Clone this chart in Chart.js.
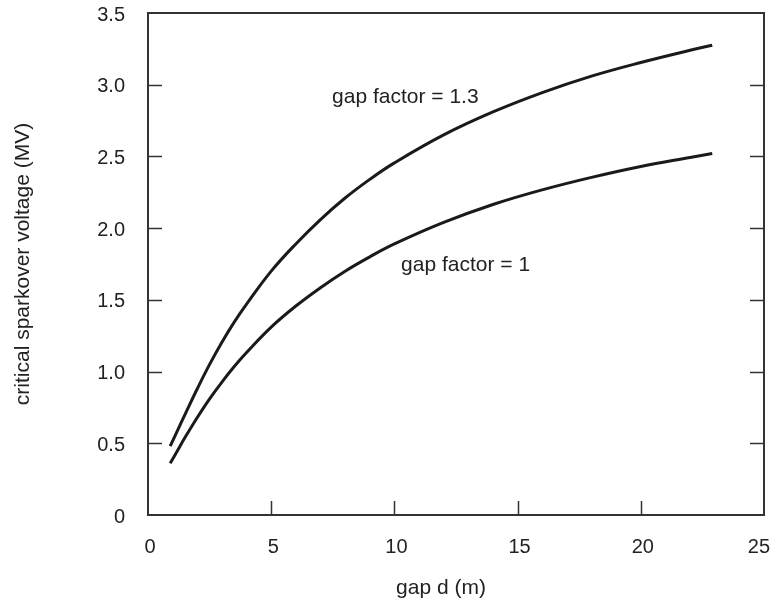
<!DOCTYPE html>
<html>
<head>
<meta charset="utf-8">
<script src="https://cdn.jsdelivr.net/npm/chart.js@4"></script>
<style>
  html, body { margin: 0; padding: 0; background: #fff; }
  canvas { display: block; }
</style>
</head>
<body>
<canvas id="chartSpark" width="772" height="599"></canvas>
<script>
// gap distance d (m)
var gapD = [0.9, 1.2, 1.5, 2, 2.5, 3, 3.5, 4, 5, 6, 7, 8, 9, 10, 12, 14, 16, 18, 20, 22, 22.9];
// critical sparkover voltage (MV)
var factor13 = [0.48, 0.59, 0.70, 0.88, 1.05, 1.205, 1.345, 1.47, 1.70, 1.89, 2.06, 2.21, 2.34, 2.455, 2.65, 2.81, 2.945, 3.06, 3.155, 3.24, 3.275];
var factor1  = [0.36, 0.45, 0.54, 0.68, 0.81, 0.927, 1.035, 1.133, 1.31, 1.457, 1.585, 1.70, 1.80, 1.89, 2.04, 2.165, 2.267, 2.354, 2.43, 2.493, 2.52];
var xTicks = [0, 5, 10, 15, 20, 25];
var yTicks = [0, 0.5, 1.0, 1.5, 2.0, 2.5, 3.0, 3.5];
var curveLabels = [
    { text: 'gap factor = 1.3', x: 7.47, y: 2.91 },
    { text: 'gap factor = 1',   x: 10.27, y: 1.74 }
];

function toPoints(xs, ys){
    return xs.map(function(x, i){ return { x: x, y: ys[i] }; });
}

var FONT = '"Liberation Sans", Arial, sans-serif';
var INK = '#222';

// frame, inward ticks, tick labels, x title and curve labels
var framePlugin = {
    id: 'frame',
    afterDraw: function(chart){
        var ctx = chart.ctx, a = chart.chartArea;
        var xs = chart.scales.x, ys = chart.scales.y;
        var len = 14;
        ctx.save();
        ctx.strokeStyle = '#333';
        ctx.lineWidth = 2;
        ctx.strokeRect(a.left, a.top, a.right - a.left, a.bottom - a.top);
        ctx.lineWidth = 1.5;
        ctx.beginPath();
        yTicks.forEach(function(v){
            if (v === 0 || v === 3.5) return;
            var py = Math.round(ys.getPixelForValue(v)) + 0.5;
            ctx.moveTo(a.left, py); ctx.lineTo(a.left + len, py);
            ctx.moveTo(a.right, py); ctx.lineTo(a.right - len, py);
        });
        xTicks.forEach(function(v){
            if (v === 0 || v === 25) return;
            var px = Math.round(xs.getPixelForValue(v)) + 0.5;
            ctx.moveTo(px, a.bottom); ctx.lineTo(px, a.bottom - len);
        });
        ctx.stroke();

        ctx.fillStyle = INK;
        ctx.font = '20px ' + FONT;
        ctx.textBaseline = 'middle';
        ctx.textAlign = 'right';
        yTicks.forEach(function(v){
            ctx.fillText(v === 0 ? '0' : v.toFixed(1), a.left - 23, ys.getPixelForValue(v) + 2);
        });
        ctx.textAlign = 'center';
        xTicks.forEach(function(v){
            var txt = String(v);
            var half = ctx.measureText(txt).width / 2;
            var px = Math.min(xs.getPixelForValue(v) + 2, chart.width - half - 2);
            ctx.fillText(txt, px, a.bottom + 32);
        });
        ctx.font = '21px ' + FONT;
        ctx.fillText('gap d (m)', (a.left + a.right) / 2 - 15, 588);

        ctx.textAlign = 'left';
        curveLabels.forEach(function(l){
            ctx.fillText(l.text, xs.getPixelForValue(l.x), ys.getPixelForValue(l.y));
        });
        ctx.restore();
    }
};

var ctx = document.getElementById('chartSpark').getContext('2d');
var myChart = new Chart(ctx, {
    type: 'line',
    data: {
        datasets: [{
            label: 'gap factor = 1.3',
            data: toPoints(gapD, factor13),
            borderColor: '#1a1a1a',
            borderWidth: 3,
            borderJoinStyle: 'round',
            pointRadius: 0,
            tension: 0.4,
            fill: false
        }, {
            label: 'gap factor = 1',
            data: toPoints(gapD, factor1),
            borderColor: '#1a1a1a',
            borderWidth: 3,
            borderJoinStyle: 'round',
            pointRadius: 0,
            tension: 0.4,
            fill: false
        }]
    },
    options: {
        responsive: false,
        animation: false,
        layout: { padding: { top: 13, right: 8, left: 0, bottom: 0 } },
        plugins: {
            legend: { display: false },
            tooltip: { enabled: false }
        },
        scales: {
            x: {
                type: 'linear',
                min: 0, max: 25,
                afterFit: function(s){ s.height = 84; },
                grid: { display: false, drawTicks: false },
                border: { display: false },
                ticks: { display: false }
            },
            y: {
                min: 0, max: 3.5,
                afterFit: function(s){ s.width = 148; },
                grid: { display: false, drawTicks: false },
                border: { display: false },
                ticks: { display: false },
                title: {
                    display: true, text: 'critical sparkover voltage (MV)', color: INK,
                    font: { family: FONT, size: 21 },
                    padding: { top: 11, bottom: 0 }
                }
            }
        }
    },
    plugins: [framePlugin]
});
</script>
</body>
</html>
